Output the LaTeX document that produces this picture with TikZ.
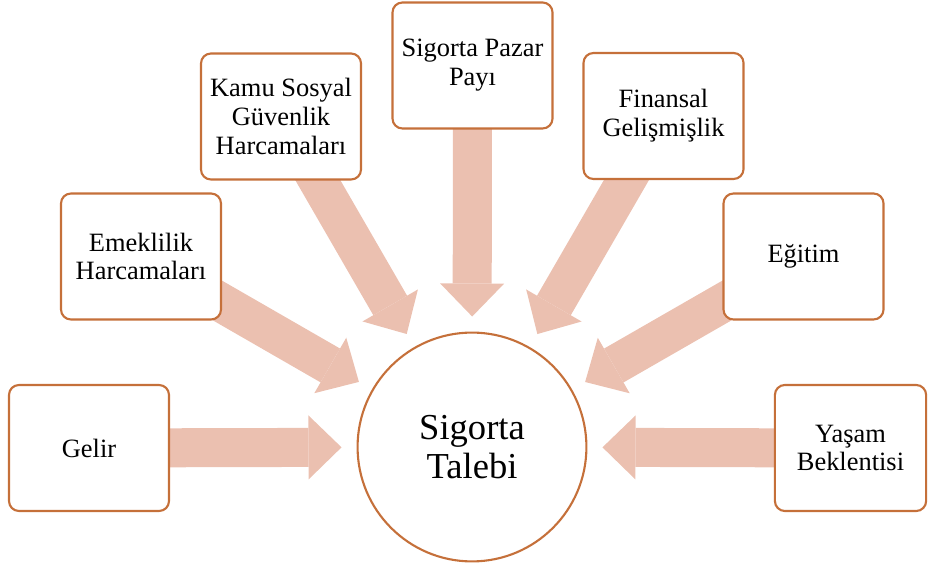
\documentclass[tikz,border=0pt]{standalone}
\usepackage{fontspec}
\setmainfont{Liberation Serif}
\usetikzlibrary{arrows.meta,backgrounds}
\definecolor{boxBorder}{RGB}{197,112,58}
\definecolor{arrowFill}{RGB}{235,192,176}

\begin{document}
\begin{tikzpicture}[x=0.025cm, y=-0.025cm,
    factorBox/.style = {draw=boxBorder, line width=1.5pt, fill=white, rounded corners=0.25cm,
      minimum width=4cm, minimum height=3.15cm, align=center, inner sep=2pt,
      font=\fontsize{18.8}{20.5}\selectfont},
    demandCircle/.style = {circle, draw=boxBorder, line width=1.5pt, fill=white,
      minimum size=5.72cm, inner sep=0pt, align=center, font=\fontsize{26}{28}\selectfont},
    pushArrow/.style = {draw=arrowFill, line width=0.975cm, shorten >=0.375cm,
      -{Triangle[width=1.6cm, length=0.825cm, line width=0pt]}},
    ]
    \useasboundingbox (0,0) rectangle (928,569);
    \node [demandCircle] (talep) at (472,447) {Sigorta\\Talebi};
    \node [factorBox] (gelir) at (89,448) {Gelir};
    \node [factorBox] (emeklilik) at (141,256.5) {Emeklilik\\Harcamaları};
    \node [factorBox] (kamu) at (281,116.5) {Kamu Sosyal\\Güvenlik\\Harcamaları};
    \node [factorBox] (pazar) at (472.5,65.5) {Sigorta Pazar\\Payı};
    \node [factorBox] (finansal) at (663.5,116) {Finansal\\Gelişmişlik};
    \node [factorBox] (egitim) at (803.5,256.5) {Eğitim};
    \node [factorBox, minimum width=3.78cm] (yasam) at (850.5,448) {Yaşam\\Beklentisi};
    \begin{scope}[on background layer]
      \foreach \from in {gelir,emeklilik,kamu,pazar,finansal,egitim,yasam}
        \draw [pushArrow] (\from.center) -- (talep);
    \end{scope}
\end{tikzpicture}
\end{document}
